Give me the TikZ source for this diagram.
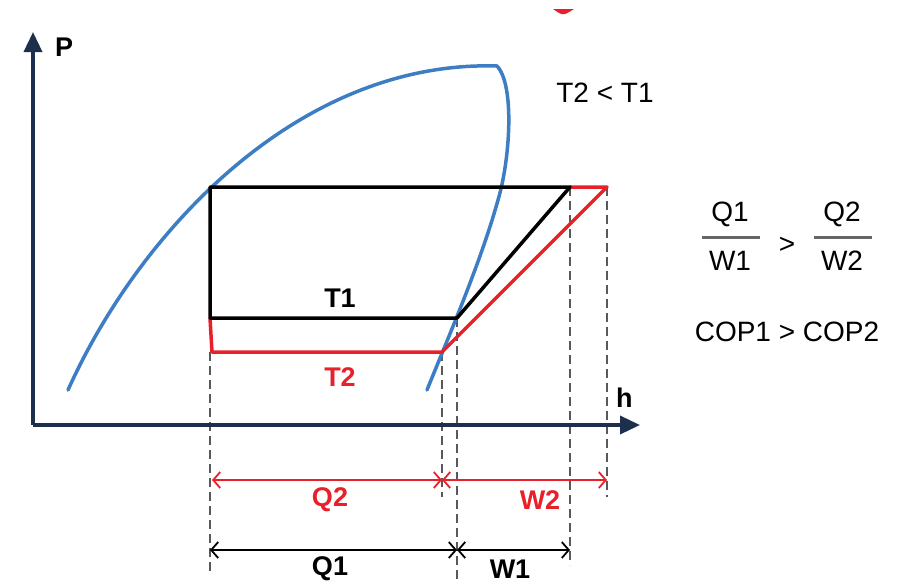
\documentclass[tikz,border=0pt]{standalone}
\usepackage{fontspec}
\setmainfont{Liberation Sans}
\usetikzlibrary{arrows.meta}
\definecolor{axisnavy}{HTML}{1C2F4D}
\definecolor{domeblue}{HTML}{3C7DC4}
\definecolor{cyclered}{HTML}{E8202A}
\tikzset{
	axis/.style={line width=3.5pt, draw=axisnavy, -{Triangle[length=20pt,width=18pt]}},
	dome/.style={line width=3.5pt, draw=domeblue, line join=round, line cap=round},
	cycleone/.style={line width=3.5pt, draw=black, line join=round},
	cycletwo/.style={line width=3.5pt, draw=cyclered, line join=round},
	guide/.style={line width=1.6pt, draw=black!65, dash pattern=on 9pt off 5pt},
	dimone/.style={line width=1.8pt, draw=black, {Straight Barb[length=7pt,width=16pt]}-{Straight Barb[length=7pt,width=16pt]}},
	dimtwo/.style={line width=1.8pt, draw=cyclered, {Straight Barb[length=7pt,width=16pt]}-{Straight Barb[length=7pt,width=16pt]}},
	lbl/.style={font=\fontsize{28}{32}\selectfont, inner sep=0pt},
	boldlbl/.style={font=\fontsize{27}{32}\selectfont\bfseries, inner sep=0pt}
}
\begin{document}
\begin{tikzpicture}[x=1pt, y=-1pt]
		\useasboundingbox (0,0) rectangle (912,584);
		%stray mark at top
		\fill[cyclered] (553,9) .. controls (563,16) .. (574,9) -- cycle;
		%draw dashed guides
		\draw[guide] (210,352) -- (210,572);
		\draw[guide] (442,352) -- (442,497);
		\draw[guide] (457,318) -- (457,580);
		\draw[guide] (570,187) -- (570,565);
		\draw[guide] (607,187) -- (607,497);
		%draw coordinate system
		\draw[axis] (33,425) -- (33,32) node[coordinate] (ptip) {};
		\draw[axis] (33,425) -- (640,425) node[coordinate] (htip) {};
		\node[boldlbl, anchor=west] (plab) at (55,47) {P};
		\node[boldlbl, anchor=west] (hlab) at (616,398) {h};
		%draw saturation dome
		\draw[dome] (68,390) .. controls (140,230) and (300,60) .. (497,66)
			.. controls (515,85) and (510,160) .. (498,200)
			.. controls (480,265) and (445,345) .. (427,390);
		%draw cycle T1
		\coordinate (a1) at (210,187);
		\coordinate (b1) at (570,187);
		\coordinate (c1) at (457,318);
		\coordinate (d1) at (210,318);
		%draw cycle T2
		\coordinate (b2) at (607,187);
		\coordinate (c2) at (442,352);
		\coordinate (d2) at (212,352);
		\draw[cycletwo] (d1) -- (d2) -- (c2) -- (b2) -- (b1);
		\draw[cycleone] (b1) -- (a1) -- (d1) -- (c1) -- cycle;
		\node[boldlbl] (tone) at (340,298) {T1};
		\node[boldlbl, text=cyclered] (ttwo) at (340,377) {T2};
		%draw labels
		\node[lbl] (tcmp) at (605,93) {T2 < T1};
		\node[lbl] (qone) at (730,214) {Q1};
		\node[lbl] (wone) at (730,261) {W1};
		\node[lbl] (gt) at (787,245) {>};
		\node[lbl] (qtwo) at (842,214) {Q2};
		\node[lbl] (wtwo) at (842,261) {W2};
		\draw[line width=3pt, draw=black!60] (702,237) -- (760,237);
		\draw[line width=3pt, draw=black!60] (814,237) -- (872,237);
		\node[lbl] (cop) at (787,332) {COP1 > COP2};
		%draw dimension arrows
		\coordinate (q2a) at (212,480);
		\coordinate (q2b) at (442,480);
		\coordinate (w2b) at (607,480);
		\draw[dimtwo] (q2a) -- (q2b);
		\draw[dimtwo] (q2b) -- (w2b);
		\node[boldlbl, text=cyclered] (qtwolab) at (330,500) {Q2};
		\node[boldlbl, text=cyclered] (wtwolab) at (540,500) {W2};
		\coordinate (q1a) at (210,550);
		\coordinate (q1b) at (457,550);
		\coordinate (w1b) at (570,550);
		\draw[dimone] (q1a) -- (q1b);
		\draw[dimone] (q1b) -- (w1b);
		\node[boldlbl] (qonelab) at (330,569) {Q1};
		\node[boldlbl] (wonelab) at (510,569) {W1};
	\end{tikzpicture}
\end{document}
